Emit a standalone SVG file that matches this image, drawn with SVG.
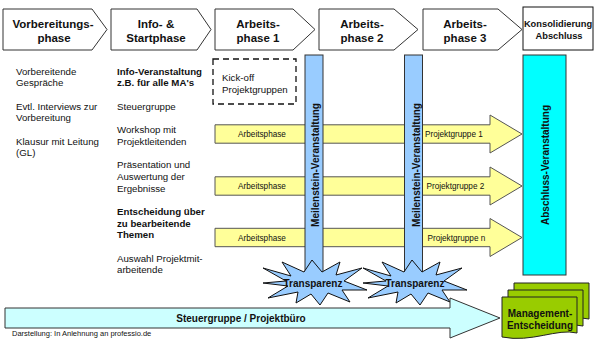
<svg xmlns="http://www.w3.org/2000/svg" width="594" height="340" viewBox="0 0 594 340">
<style>
text{font-family:"Liberation Sans",Arial,sans-serif;fill:#111}
.hd{font-size:11.5px;font-weight:bold;text-anchor:middle}
.t{font-size:9.7px}
.b{font-weight:bold}
.ph{fill:#fff;stroke:#333;stroke-width:1}
.ya{fill:#FFFF99;stroke:#555;stroke-width:1}
.yl{font-size:8.2px}
.ms{fill:#99CCFF;stroke:#333;stroke-width:1}
.rt{font-size:10px;font-weight:bold;text-anchor:middle}
.bu{fill:#99CCFF;stroke:#111;stroke-width:1}
.mg{fill:#99CC00;stroke:#222;stroke-width:1}
</style>
<defs>
<polygon id="burst" points="263,268 291,276 282,262 304,272 312,260 322,272 340,262 336,275 362,268 344,281 367,290 342,290 350,302 328,293 320,305 311,294 296,303 298,292 268,298 288,286 263,283 286,281"/>
</defs>

<g id="header-vorbereitung">
<path class="ph" d="M3,9 H92 L107,29.5 L92,50 H3 Z"/>
<text class="hd" x="53" y="28">Vorbereitungs-</text>
<text class="hd" x="54" y="41.5">phase</text>
</g>
<g id="header-info">
<path class="ph" d="M111,9 H197 L211,29.5 L197,50 H111 Z"/>
<text class="hd" x="156" y="28">Info- &amp;</text>
<text class="hd" x="156" y="41.5">Startphase</text>
</g>
<g id="header-ap1">
<path class="ph" d="M215,9 H293 L315,29.5 L293,50 H215 Z"/>
<text class="hd" x="258" y="28">Arbeits-</text>
<text class="hd" x="258" y="41.5">phase 1</text>
</g>
<g id="header-ap2">
<path class="ph" d="M319,9 H394 L418,29.5 L394,50 H319 Z"/>
<text class="hd" x="362" y="28">Arbeits-</text>
<text class="hd" x="362" y="41.5">phase 2</text>
</g>
<g id="header-ap3">
<path class="ph" d="M423,9 H498 L522,29.5 L498,50 H423 Z"/>
<text class="hd" x="465" y="28">Arbeits-</text>
<text class="hd" x="465" y="41.5">phase 3</text>
</g>
<g id="header-konsolidierung">
<rect x="523" y="7" width="70" height="43" fill="#fff" stroke="#111" stroke-width="1"/>
<text class="b" x="558" y="27" font-size="9.3" text-anchor="middle">Konsolidierung</text>
<text class="b" x="559" y="39" font-size="9.3" text-anchor="middle">Abschluss</text>
</g>

<g id="col-vorbereitung">
<text class="t" x="16" y="74.5">Vorbereitende</text>
<text class="t" x="16" y="86.2">Gespräche</text>
<text class="t" x="16" y="109.6">Evtl. Interviews zur</text>
<text class="t" x="16" y="121.3">Vorbereitung</text>
<text class="t" x="16" y="144.7">Klausur mit Leitung</text>
<text class="t" x="16" y="156.4">(GL)</text>
</g>

<g id="col-info">
<text class="t b" x="117" y="74.5">Info-Veranstaltung</text>
<text class="t b" x="117" y="86.2">z.B. für alle MA's</text>
<text class="t" x="117" y="109.6">Steuergruppe</text>
<text class="t" x="117" y="133">Workshop mit</text>
<text class="t" x="117" y="144.7">Projektleitenden</text>
<text class="t" x="117" y="168.1">Präsentation und</text>
<text class="t" x="117" y="179.8">Auswertung der</text>
<text class="t" x="117" y="191.5">Ergebnisse</text>
<text class="t b" x="117" y="214.9">Entscheidung über</text>
<text class="t b" x="117" y="226.6">zu bearbeitende</text>
<text class="t b" x="117" y="238.3">Themen</text>
<text class="t" x="117" y="261.7">Auswahl Projektmit-</text>
<text class="t" x="117" y="273.4">arbeitende</text>
</g>

<g id="kickoff">
<rect x="213" y="59" width="83" height="45" fill="none" stroke="#111" stroke-width="1.3" stroke-dasharray="6,4"/>
<text class="t" x="222" y="81">Kick-off</text>
<text class="t" x="222" y="93">Projektgruppen</text>
</g>

<g id="connectors">
<path class="ya" d="M215,124.8 H490 V115 L522,134 L490,153 V143.2 H215 Z"/>
<path class="ya" d="M215,176.8 H490 V167 L522,186 L490,205 V195.2 H215 Z"/>
<path class="ya" d="M215,228.3 H490 V218.5 L522,237.5 L490,256.5 V246.7 H215 Z"/>
<text class="yl" x="262" y="137" text-anchor="middle">Arbeitsphase</text>
<text class="yl" x="262" y="189" text-anchor="middle">Arbeitsphase</text>
<text class="yl" x="262" y="240.5" text-anchor="middle">Arbeitsphase</text>
<text class="yl" x="425" y="137">Projektgruppe 1</text>
<text class="yl" x="426.5" y="189">Projektgruppe 2</text>
<text class="yl" x="427.5" y="240.5">Projektgruppe n</text>
</g>

<g id="meilenstein-1">
<rect class="ms" x="305" y="55" width="18" height="222"/>
<text class="rt" transform="translate(318.5,165) rotate(-90)">Meilenstein-Veranstaltung</text>
</g>
<g id="meilenstein-2">
<rect class="ms" x="404.5" y="55" width="18" height="222"/>
<text class="rt" transform="translate(419.5,165) rotate(-90)">Meilenstein-Veranstaltung</text>
</g>

<g id="abschluss">
<rect x="523" y="55" width="43" height="220" fill="#00FFFF" stroke="#333" stroke-width="1"/>
<text class="rt" transform="translate(549,165) rotate(-90)">Abschluss-Veranstaltung</text>
</g>

<g id="transparenz-1">
<use href="#burst" class="bu"/>
<text class="b" x="313" y="287" font-size="10" text-anchor="middle">Transparenz</text>
</g>
<g id="transparenz-2">
<use href="#burst" class="bu" transform="translate(100,0)"/>
<text class="b" x="415" y="286.5" font-size="10" text-anchor="middle">Transparenz</text>
</g>

<g id="steuergruppe">
<path d="M5,308 H450 V298 L500,318 L450,338 V328 H5 Z" fill="#CCFFFF" stroke="#333" stroke-width="1"/>
<text class="b" x="241" y="322" font-size="10" text-anchor="middle">Steuergruppe / Projektbüro</text>
</g>

<g id="management">
<path class="mg" d="M514,283 H589 V319 C569,314 544,329 514,323 Z"/>
<path class="mg" d="M508,290 H583 V326 C563,321 538,336 508,330 Z"/>
<path class="mg" d="M502,297 H577 V333 C557,328 532,343 502,337 Z"/>
<text class="b" x="540" y="317" font-size="10" text-anchor="middle">Management-</text>
<text class="b" x="540" y="328.5" font-size="10" text-anchor="middle">Entscheidung</text>
</g>

<g id="quelle">
<text x="12" y="336" font-size="7.5">Darstellung: In Anlehnung an professio.de</text>
</g>
</svg>
